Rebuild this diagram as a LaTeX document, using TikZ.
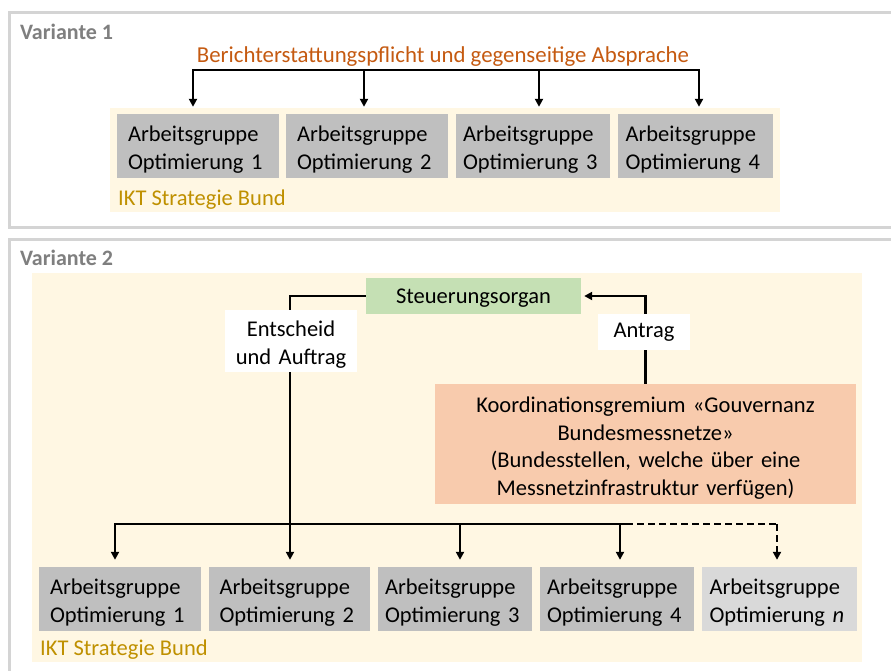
\documentclass[tikz,border=0pt]{standalone}
\usepackage{fontspec}
\setmainfont{Carlito}
\usetikzlibrary{arrows.meta}
\definecolor{framegray}{HTML}{D4D4D4}
\definecolor{vargray}{HTML}{7F7F7F}
\definecolor{orangetxt}{HTML}{C55A11}
\definecolor{goldtxt}{HTML}{BF9000}
\definecolor{cream}{HTML}{FFF7E3}
\definecolor{agray}{HTML}{BFBFBF}
\definecolor{alight}{HTML}{D9D9D9}
\definecolor{steugreen}{HTML}{C5E0B4}
\definecolor{koordsalmon}{HTML}{F8CBAD}
\begin{document}
\begin{tikzpicture}[x=1pt,y=-1pt,
  txt/.style={font=\fontsize{22.5}{28}\selectfont},
  agbox/.style={txt, fill=agray, inner xsep=#1, inner ysep=0pt, minimum height=64pt, text width=140pt, align=left,
                execute at begin node={\rule{0pt}{22pt}}},
  lightbox/.style={agbox=#1, fill=alight},
  frame/.style={draw=framegray, line width=3pt},
  creambg/.style={fill=cream},
  lw/.style={line width=2.4pt, line cap=rect},
  conn/.style={line width=2.4pt, -{Triangle[length=8pt,width=8pt]}},
  varlabel/.style={font=\fontsize{22}{26}\selectfont\bfseries, text=vargray, anchor=west, inner sep=0pt},
  iktlabel/.style={txt, text=goldtxt, anchor=west, inner sep=0pt},
  whitelabel/.style={txt, fill=white, align=center, inner sep=0pt}
]
\useasboundingbox (0,0) rectangle (891,671);
\clip (0,0) rectangle (891,671);
\fill[white] (0,0) rectangle (891,671);

% ---------- Variante 1 ----------
\draw[frame] (9.5,13) rectangle (905,227.5);
\node[varlabel] (v1) at (20,32) {Variante 1};
\node[txt, text=orangetxt, inner sep=0pt, font=\fontsize{22.8}{28}\selectfont] (title) at (443,57) {Berichterstattungspflicht und gegenseitige Absprache};
\fill[creambg] (110,108) rectangle (780,212);

\node[agbox=11pt] (a1) at (198,146) {Arbeitsgruppe\\Optimierung 1};
\node[agbox=11pt] (a2) at (367,146) {Arbeitsgruppe\\Optimierung 2};
\node[agbox=7pt] (a3) at (533,146) {Arbeitsgruppe\\Optimierung 3};
\node[agbox=7.5pt] (a4) at (695.5,146) {Arbeitsgruppe\\Optimierung 4};
\node[iktlabel] (ikt1) at (118,200) {IKT Strategie Bund};

\coordinate (t1) at (193,70);
\coordinate (t2) at (364,70);
\coordinate (t3) at (539,70);
\coordinate (t4) at (699,70);
\draw[lw] (t1) -- (t4);
\draw[conn, shorten >=7pt] (t1) -- (t1 |- a1.north);
\draw[conn, shorten >=7pt] (t2) -- (t2 |- a2.north);
\draw[conn, shorten >=7pt] (t3) -- (t3 |- a3.north);
\draw[conn, shorten >=7pt] (t4) -- (t4 |- a4.north);

% ---------- Variante 2 ----------
\draw[frame] (9.5,239.5) rectangle (905,690);
\node[varlabel] (v2) at (20,258) {Variante 2};
\fill[creambg] (32,273) rectangle (862,662);

\node[txt, fill=steugreen, minimum width=215pt, minimum height=36pt, inner sep=0pt, text depth=0pt] (steuer) at (473.5,296) {Steuerungsorgan};
\node[txt, fill=koordsalmon, text width=421pt, minimum height=120pt, inner sep=0pt, align=center,
      font=\fontsize{22.5}{27.5}\selectfont, execute at begin node={\rule{0pt}{23.5pt}}] (koord) at (645.5,444)
  {Koordinationsgremium «Gouvernanz\\Bundesmessnetze»\\(Bundesstellen, welche über eine\\Messnetzinfrastruktur verfügen)};

\node[agbox=11pt] (c1) at (120,599) {Arbeitsgruppe\\Optimierung 1};
\node[agbox=10.5pt] (c2) at (289.5,599) {Arbeitsgruppe\\Optimierung 2};
\node[agbox=7pt] (c3) at (455,599) {Arbeitsgruppe\\Optimierung 3};
\node[agbox=7pt] (c4) at (617,599) {Arbeitsgruppe\\Optimierung 4};
\node[lightbox=7.5pt] (c5) at (779.5,599) {Arbeitsgruppe\\Optimierung \textit{n}};
\node[iktlabel] (ikt2) at (40,650) {IKT Strategie Bund};

\coordinate (b1) at (115,524);
\coordinate (b2) at (290,524);
\coordinate (b3) at (460,524);
\coordinate (b4) at (620,524);
\coordinate (bm) at (626,524);
\coordinate (b5) at (777,524);

\draw[lw] (b1) -- (bm);
\draw[line width=2.4pt, dash pattern=on 7pt off 4pt] (bm) -- (b5);
\draw[conn, shorten >=7pt] (steuer.west) -| (b2 |- c2.north);
\draw[conn, shorten >=7pt] (b1) -- (b1 |- c1.north);
\draw[conn, shorten >=7pt] (b3) -- (b3 |- c3.north);
\draw[conn, shorten >=7pt] (b4) -- (b4 |- c4.north);
\draw[conn, shorten >=7pt, dash pattern=on 7pt off 4pt] (b5) -- (b5 |- c5.north);
\draw[conn, shorten >=3pt] (koord.north) |- (steuer.east);

\node[whitelabel, text width=132pt, minimum height=62pt, execute at begin node={\rule{0pt}{22pt}}] (entsch) at (291,341) {Entscheid\\und Auftrag};
\node[whitelabel, minimum width=92pt, minimum height=36pt] (antrag) at (644,332) {Antrag};
\end{tikzpicture}
\end{document}
